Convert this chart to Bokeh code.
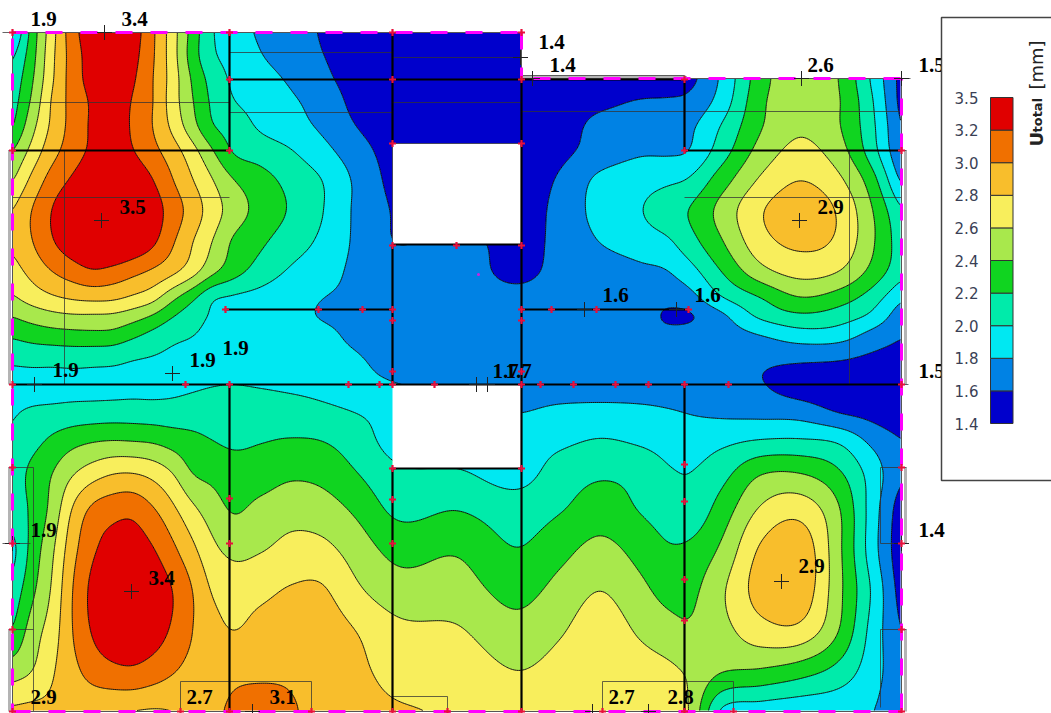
import numpy as np
from bokeh.core.properties import value
from bokeh.embed import file_html
from bokeh.plotting import figure
from bokeh.resources import INLINE

# ---- displacement field (image pixel coordinates, value in mm)
x_nodes = [12,32,52,72,92,112,132,152,172,192,212,230,260,290,320,355,392,456,521,560,600,640,670,684,720,760,800,840,870,901]
y_nodes = [32,55,78,100,125,150,180,210,240,270,300,315,330,360,384,410,440,470,510,550,590,630,670,711]

u032 = [1.75,2.29,2.73,3.12,3.33,3.40,3.30,3.04,2.69,2.32,2.01,1.91,1.77,1.68,1.59,1.50,1.45,1.42,1.40,1.42,1.44,1.47,1.49,1.52,1.82,2.31,2.55,2.38,1.99,1.52]
u055 = [1.95,2.33,2.76,3.09,3.30,3.42,3.27,3.03,2.69,2.30,2.03,1.94,1.81,1.70,1.61,1.52,1.46,1.42,1.40,1.42,1.44,1.47,1.49,1.52,1.82,2.31,2.55,2.38,1.99,1.52]
u078 = [2.05,2.38,2.78,3.09,3.28,3.35,3.23,3.01,2.71,2.37,2.12,1.98,1.88,1.77,1.65,1.53,1.46,1.42,1.40,1.42,1.44,1.47,1.49,1.52,1.82,2.31,2.55,2.38,1.99,1.52]
u100 = [2.10,2.44,2.83,3.07,3.23,3.30,3.19,3.01,2.70,2.41,2.16,2.02,1.93,1.83,1.72,1.55,1.47,1.43,1.45,1.50,1.55,1.61,1.62,1.63,1.87,2.35,2.55,2.40,2.04,1.52]
u125 = [2.17,2.54,2.85,3.07,3.23,3.28,3.18,3.00,2.75,2.47,2.21,2.12,1.97,1.88,1.77,1.60,1.48,1.45,1.46,1.52,1.65,1.68,1.72,1.74,2.00,2.38,2.57,2.40,2.07,1.57]
u150 = [2.38,2.67,2.93,3.10,3.24,3.30,3.21,3.06,2.89,2.67,2.41,2.20,2.10,2.01,1.87,1.69,1.52,1.47,1.46,1.55,1.68,1.77,1.77,1.78,2.09,2.47,2.65,2.47,2.11,1.60]
u180 = [2.58,2.86,3.09,3.23,3.36,3.42,3.35,3.21,3.01,2.81,2.61,2.43,2.28,2.14,2.01,1.77,1.55,1.48,1.48,1.63,1.85,1.92,1.97,2.00,2.30,2.63,2.80,2.63,2.31,1.75]
u210 = [2.79,3.01,3.21,3.35,3.48,3.50,3.42,3.30,3.11,2.91,2.70,2.53,2.33,2.18,2.02,1.77,1.59,1.50,1.49,1.67,1.87,1.99,2.13,2.18,2.46,2.78,2.92,2.76,2.43,2.00]
u240 = [2.83,3.00,3.19,3.33,3.43,3.45,3.38,3.25,3.03,2.81,2.60,2.40,2.24,2.10,1.97,1.77,1.60,1.67,1.53,1.66,1.81,1.91,1.99,2.09,2.38,2.73,2.85,2.75,2.45,2.08]
u270 = [2.72,2.87,3.01,3.11,3.19,3.15,3.07,2.98,2.86,2.69,2.46,2.31,2.12,1.98,1.89,1.76,1.68,1.68,1.56,1.65,1.70,1.76,1.81,1.89,2.20,2.54,2.68,2.60,2.36,2.06]
u300 = [2.55,2.66,2.74,2.79,2.81,2.80,2.73,2.63,2.41,2.21,2.00,1.96,1.92,1.86,1.80,1.76,1.70,1.66,1.64,1.66,1.66,1.66,1.66,1.68,1.95,2.17,2.36,2.26,2.09,1.80]
u315 = [2.41,2.49,2.55,2.58,2.58,2.57,2.50,2.39,2.22,2.08,1.98,1.94,1.90,1.85,1.79,1.74,1.69,1.65,1.62,1.62,1.64,1.72,1.55,1.56,1.75,2.05,2.17,2.10,1.97,1.68]
u330 = [2.27,2.33,2.37,2.39,2.40,2.39,2.30,2.19,2.08,2.02,1.96,1.93,1.89,1.85,1.83,1.76,1.70,1.65,1.63,1.62,1.63,1.64,1.64,1.64,1.71,1.85,1.97,1.94,1.79,1.63]
u360 = [2.03,2.05,2.05,2.06,2.05,2.04,2.00,1.98,1.96,1.95,1.93,1.91,1.89,1.87,1.85,1.82,1.74,1.68,1.64,1.64,1.65,1.65,1.65,1.65,1.65,1.63,1.62,1.60,1.55,1.50]
u384 = [1.92,1.92,1.92,1.93,1.93,1.93,1.94,1.94,1.95,1.97,1.99,2.00,1.98,1.95,1.92,1.86,1.81,1.74,1.66,1.65,1.65,1.65,1.65,1.65,1.64,1.61,1.50,1.46,1.44,1.42]
u410 = [1.98,2.02,2.04,2.06,2.07,2.08,2.08,2.07,2.07,2.09,2.11,2.12,2.12,2.10,2.05,1.99,1.93,1.87,1.79,1.85,1.87,1.85,1.81,1.79,1.75,1.73,1.70,1.57,1.52,1.42]
u440 = [2.02,2.13,2.24,2.33,2.38,2.40,2.39,2.37,2.31,2.25,2.20,2.17,2.19,2.21,2.20,2.10,1.93,1.88,1.90,1.96,2.01,1.97,1.92,1.90,1.95,2.01,2.02,1.96,1.76,1.60]
u470 = [2.08,2.25,2.39,2.56,2.68,2.76,2.77,2.71,2.58,2.38,2.33,2.28,2.29,2.35,2.33,2.20,2.04,2.01,1.93,2.08,2.16,2.12,2.01,1.99,2.11,2.36,2.37,2.20,1.92,1.62]
u510 = [2.08,2.24,2.47,2.82,3.05,3.13,3.15,3.03,2.85,2.65,2.50,2.39,2.46,2.53,2.50,2.37,2.17,2.20,2.10,2.19,2.30,2.19,2.10,2.06,2.28,2.63,2.73,2.40,1.93,1.48]
u550 = [1.93,2.28,2.57,2.93,3.17,3.28,3.30,3.22,3.05,2.85,2.65,2.56,2.59,2.66,2.66,2.52,2.35,2.38,2.21,2.34,2.46,2.33,2.22,2.23,2.43,2.83,2.93,2.42,1.92,1.45]
u590 = [2.06,2.36,2.63,3.00,3.25,3.37,3.40,3.33,3.20,3.00,2.78,2.72,2.75,2.82,2.83,2.64,2.50,2.49,2.34,2.47,2.60,2.45,2.33,2.33,2.56,2.88,2.93,2.43,2.00,1.50]
u630 = [2.20,2.50,2.70,3.00,3.22,3.33,3.35,3.30,3.17,3.00,2.87,2.80,2.87,2.93,2.92,2.80,2.66,2.62,2.47,2.58,2.70,2.57,2.47,2.43,2.53,2.72,2.74,2.38,1.95,1.58]
u670 = [2.50,2.60,2.78,2.94,3.08,3.15,3.17,3.11,3.02,2.94,2.93,2.95,2.96,2.97,2.94,2.85,2.74,2.72,2.60,2.67,2.74,2.68,2.63,2.59,2.42,2.38,2.29,2.12,1.90,1.65]
u711 = [2.85,2.87,2.85,2.85,2.83,2.80,2.78,2.77,2.79,2.85,2.95,3.03,3.10,3.03,2.92,2.88,2.83,2.78,2.70,2.72,2.75,2.72,2.67,2.65,1.96,1.87,1.83,1.83,1.81,1.65]

u_rows = [u032,u055,u078,u100,u125,u150,u180,u210,u240,u270,u300,u315,u330,u360,u384,u410,u440,u470,u510,u550,u590,u630,u670,u711]

levels = [1.4,1.6,1.8,2.0,2.2,2.4,2.6,2.8,3.0,3.2,3.5]
band_colors = ["#0000CC","#0082E4","#00E8F2","#00EBAA","#10D420","#A8E84C","#F8EE5C","#F8BE2C","#F07000","#E00000"]
legend_labels = ["1.4","1.6","1.8","2.0","2.2","2.4","2.6","2.8","3.0","3.2","3.5"]

walls = [(229,32,229,150),(229,384,229,711),(392,32,392,143),(392,244,392,384),(392,468,392,711),
         (521,78,521,711),(684,78,684,150),(684,384,684,711),(12,150,229,150),(229,79,684,79),
         (684,150,901,150),(12,384,901,384),(224,309,392,309),(521,309,688,309),(392,244,521,244),(392,468,521,468)]
thin = [(12,197,229,197),(12,102,229,102),(64,150,64,384),(229,52,392,52),(392,57,527,57),(229,112,392,112),
        (392,102,521,102),(521,111,901,111),(684,197,901,197),(849,150,849,384),(8,467,33,467),(33,467,33,711),
        (8,629,33,629),(180,681,311,681),(180,681,180,711),(311,681,311,711),(392,696,447,696),(447,696,447,711),
        (602,681,733,681),(602,681,602,711),(733,681,733,711),(880,467,906,467),(880,467,880,543),(880,543,908,543),
        (880,629,906,629),(880,629,880,707),(521,75,684,75),(684,75,688,78),(2,543,30,543),(2,32,30,32),
        (8,150,12,150),(901,150,906,150),(901,384,908,384),(901,78,910,78),(392,143,521,143),(392,143,392,244)]
grey_edges = [(9,150,9,384),(905,150,905,384),(9,467,9,543),(9,629,9,711),(905,467,905,543),(905,629,905,711),(521,76.5,684,76.5)]
boundary_x = [12,12,521,521,901,901,12]
boundary_y = [711,32,32,78,78,711,711]
# boundary dash runs: (x0, y0, x1, y1, dash phase)
dash_runs = [(12,711,12,32,9),(12,32,521,32,2),(521,32,521,78,0),(521,78,901,78,23),(901,78,901,711,15),(13,711,901,711,0)]

cross_x = [104,101,799,801,901,532,520,34,172,584,676,476,487,131,781,901,12,252,592,648]
cross_y = [32,220,220,78,78,78,57,384,373,309,309,384,384,591,581,543,543,711,711,711]

red_x = [12,229,392,521,229,392,521,684,12,229,392,521,684,901,392,456,521,225,318,362,392,521,551,596,688,392,521,392,521,
         12,185,229,348,379,392,434,521,540,573,615,648,684,728,901,392,521,684,12,901,229,229,392,392,684,684,684,12,901,12,180,229,311,392,447,521,602,684,733,901,12,901]
red_y = [32,32,32,32,79,79,79,79,150,150,143,143,150,150,245,245,245,309,309,309,309,309,309,309,309,320,320,371,371,
         384,384,384,384,384,384,384,384,384,384,384,384,384,384,384,468,468,464,467,467,498,543,499,543,501,579,620,629,629,711,711,711,711,711,711,711,711,711,711,711,543,543]

labels = ["1.9","3.4","3.5","1.4","1.4","2.6","1.5","2.9","1.9","1.9","1.9","1.6","1.6","1.5","1.7","1.7","1.9","1.4","3.4","2.9","2.9","2.7","3.1","2.7","2.8"]
label_x = [43,134,132,551,562,820,931,830,65,202,235,615,707,931,505,518,43,931,161,811,43,199,282,621,680]
label_y = [18,18,206,41,64,64,64,206,369,359,347,294,294,370,370,370,529,529,577,565,696,696,696,696,696]


def cubic(nodes, vals, query):
    """Smooth a hand-read table along its first axis so the contours are not faceted."""
    nodes = np.asarray(nodes, float)
    tang = np.gradient(vals, nodes, axis=0)
    i = np.clip(np.searchsorted(nodes, query) - 1, 0, len(nodes) - 2)
    h = nodes[i + 1] - nodes[i]
    t = (query - nodes[i]) / h
    shape = (-1,) + (1,) * (vals.ndim - 1)
    t = t.reshape(shape)
    h = h.reshape(shape)
    return ((2*t**3 - 3*t**2 + 1) * vals[i] + (t**3 - 2*t**2 + t) * h * tang[i]
            + (-2*t**3 + 3*t**2) * vals[i + 1] + (t**3 - t**2) * h * tang[i + 1])


def soften(a, radius=4):
    k = np.hanning(2 * radius + 3)[1:-1]
    k = k / k.sum()
    pad = np.pad(a, radius, mode="edge")
    pad = np.apply_along_axis(lambda r: np.convolve(r, k, mode="same"), 0, pad)
    pad = np.apply_along_axis(lambda r: np.convolve(r, k, mode="same"), 1, pad)
    return pad[radius:-radius, radius:-radius]


xf = np.arange(12, 901.5, 2.0)
yf = np.arange(32, 711.5, 2.0)
z = np.array(u_rows, float)
zf = cubic(y_nodes, z, yf)
zf = cubic(x_nodes, zf.T, xf).T
zf = soften(zf)
zf = np.clip(zf, levels[0] + 1e-3, levels[-1] - 1e-3)

p = figure(width=1051, height=713, x_range=(0, 1051), y_range=(713, 0), toolbar_location=None,
           output_backend="svg", min_border=0, outline_line_color=None)
p.axis.visible = False
p.grid.visible = False

p.contour(xf, yf, zf, levels, fill_color=band_colors, line_color="#000000", line_width=0.9)

p.quad(left=[521.5, 392, 392], right=[906, 521, 521], top=[20, 143, 384], bottom=[78, 244, 468],
       fill_color="white", line_color=None)


def segs(items, color, width, alpha=1.0):
    a = list(zip(*items))
    p.segment(a[0], a[1], a[2], a[3], line_color=color, line_width=width, line_alpha=alpha)


segs(grey_edges, "#b4b4b4", 3)
segs(thin, "#333333", 1, 0.75)
p.line(boundary_x, boundary_y, line_color="#555555", line_width=1)
segs(walls, "#000000", 2.2)
for x0, y0, x1, y1, phase in dash_runs:
    p.line([x0, x1], [y0, y1], line_color="#FF00FF", line_width=3, line_dash="17 18", line_dash_offset=phase)
p.scatter(cross_x, cross_y, marker="cross", size=15, line_color="#222222", line_width=1, fill_color=None)
p.scatter(red_x, red_y, marker="cross", size=7, line_color="#E8103C", line_width=2.2, fill_color=None)
p.scatter([478], [274], marker="circle", size=3, line_color=None, fill_color="#D020E0")

p.text(label_x, label_y, text=labels, text_font=value("Liberation Serif"), text_font_style="bold",
       text_font_size="21px", text_color="#000000", text_align="center", text_baseline="middle")

p.quad(left=[941], right=[1060], top=[17], bottom=[480], fill_color="white", line_color="#444444", line_width=1.5)
n = len(band_colors)
bar_top, bar_bottom = 97.0, 423.0
step = (bar_bottom - bar_top) / n
idx = np.arange(n)
p.quad(left=[990] * n, right=[1012.5] * n, top=bar_bottom - (idx + 1) * step, bottom=bar_bottom - idx * step,
       fill_color=band_colors, line_color="#333333", line_width=1)
p.text([966] * (n + 1), bar_bottom - np.arange(n + 1) * step, text=legend_labels, text_font=value("DejaVu Sans"),
       text_font_size="15px", text_color="#3a3f55", text_align="center", text_baseline="middle")
a = np.pi / 2
p.text([1036], [146], text=["U"], angle=[a], text_font=value("DejaVu Sans"), text_font_size="18px",
       text_font_style="bold", text_color="#222222", text_align="left", text_baseline="alphabetic")
p.text([1037], [132], text=["total"], angle=[a], text_font=value("DejaVu Sans"), text_font_size="13px",
       text_font_style="bold", text_color="#222222", text_align="left", text_baseline="alphabetic")
p.text([1036], [89], text=["[mm]"], angle=[a], text_font=value("DejaVu Sans"), text_font_size="18px",
       text_color="#222222", text_align="left", text_baseline="alphabetic")

open("out.html", "w").write(file_html(p, INLINE))
